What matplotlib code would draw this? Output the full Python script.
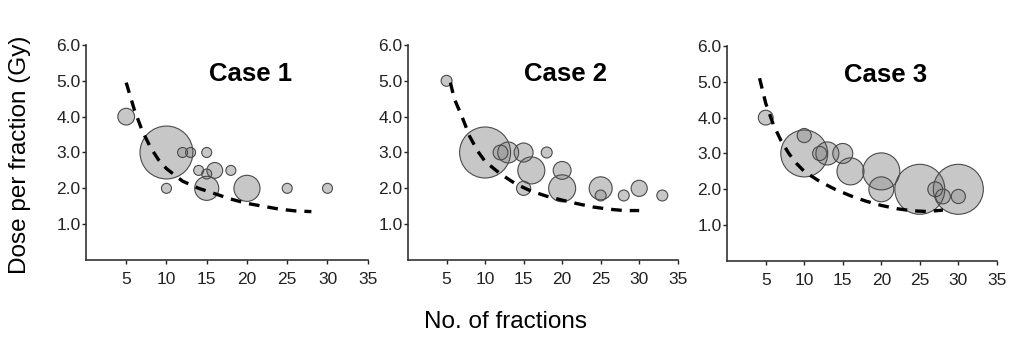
import matplotlib
matplotlib.use("Agg")
import matplotlib.pyplot as plt

plt.rcParams['font.family'] = ['Liberation Sans', 'DejaVu Sans']

# bubble data per case: fractions, dose per fraction, relative weight
case1_x = [5, 10, 10, 12, 13, 15, 14, 15, 16, 15, 18, 20, 25, 30]
case1_y = [4.0, 3.0, 2.0, 3.0, 3.0, 3.0, 2.5, 2.4, 2.5, 2.0, 2.5, 2.0, 2.0, 2.0]
case1_w = [2.8, 28, 1, 1, 1, 1, 1, 1, 2.5, 5.8, 1, 6.8, 1, 1]

case2_x = [5, 10, 12, 13, 15, 16, 15, 18, 20, 20, 25, 25, 28, 30, 33]
case2_y = [5.0, 3.0, 3.0, 3.0, 3.0, 2.5, 2.0, 3.0, 2.5, 2.0, 2.0, 1.8, 1.8, 2.0, 1.8]
case2_w = [1.2, 26, 2.2, 4.4, 3.6, 7.3, 2.0, 1.2, 3.2, 7.3, 5.3, 1.2, 1.2, 2.6, 1.2]

case3_x = [5, 10, 10, 12, 13, 15, 16, 20, 20, 25, 27, 28, 30, 30]
case3_y = [4.0, 3.0, 3.5, 3.0, 3.0, 3.0, 2.5, 2.5, 2.0, 2.0, 2.0, 1.8, 2.0, 1.8]
case3_w = [2.2, 22, 2.0, 2.0, 5.3, 4.0, 7.3, 13.7, 6.2, 25, 2.2, 2.2, 25, 2.0]

# dashed curves
curve1_x = [5, 6, 7, 8, 9, 10, 12, 14, 16, 18, 20, 22, 24, 26, 28]
curve1_y = [4.95, 4.2, 3.6, 3.15, 2.8, 2.55, 2.2, 2.0, 1.85, 1.7, 1.58, 1.5, 1.42, 1.37, 1.35]

curve2_x = [5.5, 6, 7, 8, 9, 10, 12, 14, 16, 18, 20, 22, 24, 26, 28, 30]
curve2_y = [4.95, 4.5, 4.0, 3.45, 3.05, 2.75, 2.4, 2.12, 1.92, 1.78, 1.67, 1.57, 1.48, 1.42, 1.38, 1.38]

curve3_x = [4.2, 5, 6, 7, 8, 9, 10, 12, 14, 16, 18, 20, 22, 24, 26, 28]
curve3_y = [5.1, 4.4, 3.8, 3.35, 3.0, 2.72, 2.5, 2.22, 2.0, 1.82, 1.67, 1.55, 1.46, 1.4, 1.38, 1.42]

titles = ['Case 1', 'Case 2', 'Case 3']
xticks = [5, 10, 15, 20, 25, 30, 35]
yticks = [1.0, 2.0, 3.0, 4.0, 5.0, 6.0]

data = [(case1_x, case1_y, case1_w, curve1_x, curve1_y),
        (case2_x, case2_y, case2_w, curve2_x, curve2_y),
        (case3_x, case3_y, case3_w, curve3_x, curve3_y)]

fig = plt.figure(figsize=(10.1, 3.37), dpi=100)
boxes = [[0.0851, 0.2285, 0.279, 0.638],
         [0.404, 0.2285, 0.267, 0.638],
         [0.720, 0.2256, 0.267, 0.638]]

unit = (10 * 0.72) ** 2  # marker area for weight 1

for box, (bx, by, bw, cx, cy), title in zip(boxes, data, titles):
    ax = fig.add_axes(box)
    ax.scatter(bx, by, s=[w * unit for w in bw], facecolor='#9a9a9a',
               alpha=0.55, edgecolor='none', zorder=2)
    ax.scatter(bx, by, s=[w * unit for w in bw], facecolor='none',
               edgecolor='#4a4a4a', linewidth=0.8, zorder=3)
    ax.plot(cx, cy, color='black', linestyle=(0, (3.2, 2.4)), linewidth=2.4, zorder=4)
    ax.set_xlim(0, 35)
    ax.set_ylim(0, 6)
    ax.set_xticks(xticks)
    ax.set_xticklabels([str(t) for t in xticks], fontsize=12.5)
    ax.set_yticks(yticks)
    ax.set_yticklabels(['%.1f' % t for t in yticks], fontsize=12.5)
    ax.tick_params(direction='out', length=3, width=1, pad=1, colors='#222222')
    ax.tick_params(axis='x', pad=6)
    for s in ['top', 'right']:
        ax.spines[s].set_visible(False)
    for s in ['left', 'bottom']:
        ax.spines[s].set_linewidth(1.2)
        ax.spines[s].set_color('#333333')
    ax.text(20.5, 5.2, title, fontsize=18.5, fontweight='bold', ha='center', va='center')

fig.text(0.02, 0.54, 'Dose per fraction (Gy)', rotation=90, fontsize=17.5,
         ha='center', va='center')
fig.text(0.5, 0.045, 'No. of fractions', fontsize=17.5, ha='center', va='center')

fig.savefig('out.png', dpi=100)
